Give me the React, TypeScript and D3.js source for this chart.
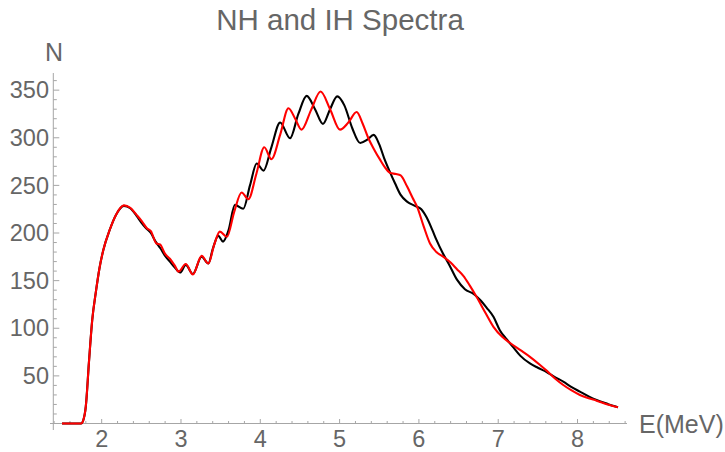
import React from 'react';
import * as d3 from 'd3';

// NH (black) spectrum, energy in MeV and counts
const nhEnergy = [
  1.5, 1.74, 1.77, 1.8, 1.84, 1.88, 1.93, 1.97, 2.02, 2.1, 2.18, 2.28, 2.36, 2.44, 2.5, 2.56,
  2.62, 2.68, 2.74, 2.8, 2.86, 2.92, 2.99, 3.06, 3.15, 3.26, 3.345, 3.4, 3.47, 3.53, 3.6, 3.68,
  3.785, 3.87, 3.955, 4.04, 4.14, 4.25, 4.375, 4.48, 4.585, 4.69, 4.79, 4.88, 4.97, 5.06, 5.16,
  5.26, 5.35, 5.43, 5.5, 5.56, 5.635, 5.7, 5.77, 5.85, 5.95, 6.03, 6.1, 6.17, 6.22, 6.3, 6.38,
  6.48, 6.58, 6.69, 6.77, 6.855, 6.94, 7.02, 7.1, 7.18, 7.28, 7.4, 7.5, 7.61, 7.72, 7.82, 7.92,
  8.03, 8.14, 8.24, 8.38, 8.51,
];
const nhCounts = [
  0, 0, 4, 18, 65, 108, 140, 162, 182, 203, 219, 228.5, 226, 218, 211, 205,
  200, 191, 184, 176, 170, 164, 158.5, 166.5, 157, 175, 168, 183, 197, 191, 203, 229.5,
  225.5, 250, 273, 265.5, 290, 316, 299.5, 325, 344, 330, 314.5, 330, 343.5, 334, 310,
  294.5, 298, 303, 293, 279, 264, 252, 240, 233, 228.5, 225, 216, 203, 193, 179, 167,
  151, 141, 136, 130, 121.5, 112, 98, 89, 81, 71, 63, 58.5, 54, 48.5, 44, 38.5,
  33.4, 28.5, 24.7, 20.5, 17,
];

// IH (red) spectrum
const ihEnergy = [
  1.5, 1.74, 1.77, 1.8, 1.84, 1.88, 1.93, 1.97, 2.02, 2.1, 2.18, 2.28, 2.36, 2.44, 2.51, 2.57,
  2.62, 2.69, 2.735, 2.8, 2.86, 2.92, 2.97, 3.06, 3.15, 3.26, 3.345, 3.42, 3.49, 3.58, 3.67,
  3.765, 3.85, 3.95, 4.05, 4.14, 4.25, 4.355, 4.44, 4.52, 4.64, 4.76, 4.88, 5.005, 5.11, 5.215,
  5.29, 5.36, 5.44, 5.51, 5.58, 5.64, 5.71, 5.77, 5.85, 5.92, 5.98, 6.06, 6.14, 6.22, 6.31,
  6.4, 6.48, 6.56, 6.64, 6.73, 6.84, 6.94, 7.05, 7.15, 7.28, 7.4, 7.52, 7.61, 7.72, 7.82, 7.92,
  8.03, 8.14, 8.24, 8.38, 8.51,
];
const ihCounts = [
  0, 0, 4, 18, 65, 108, 140, 162, 182, 203, 219, 229, 226.5, 219, 212, 205,
  202, 189, 188, 178, 173, 166, 159.5, 167.5, 156.5, 176, 168, 188, 201.5, 196, 222,
  242.5, 235.5, 262, 290, 277.5, 303, 331, 320, 308.5, 329, 348.5, 330, 308.5, 316, 327,
  315, 300, 287, 277, 268, 263, 262, 260.5, 249, 237, 227, 207, 189, 180, 175,
  169, 162, 155, 145, 132.5, 116, 101.5, 91, 84.5, 77, 70, 62, 55.5, 47, 40.4, 35,
  30, 26.5, 24, 20, 17,
];

const xTickLabels = [2, 3, 4, 5, 6, 7, 8];
const yTickLabels = [50, 100, 150, 200, 250, 300, 350];

const W = 725;
const H = 452;
const FONT = '"Liberation Sans", Arial, sans-serif';
const TEXT = '#666666';
const AXIS = '#a6a6a6';

export default function App() {
  const x = d3.scaleLinear().domain([1.39, 8.62]).range([53.3, 626.7]);
  const y = d3.scaleLinear().domain([0, 368]).range([423.5, 73]);

  const line = d3
    .line<[number, number]>()
    .x(d => x(d[0]))
    .y(d => y(d[1]))
    .curve(d3.curveMonotoneX);

  const nh = nhEnergy.map((e, i) => [e, nhCounts[i]] as [number, number]);
  const ih = ihEnergy.map((e, i) => [e, ihCounts[i]] as [number, number]);

  const xMinor = d3.range(1.4, 8.61, 0.2).filter(v => Math.abs(v - Math.round(v)) > 0.01);
  const yMinor = d3.range(10, 361, 10).filter(v => v % 50 !== 0);

  const x0 = x(1.39);
  const y0 = y(0);

  return (
    <svg width={W} height={H} style={{ position: 'absolute', left: 0, top: 0 }}>
      <rect width={W} height={H} fill="#fff" />

      <text x={340} y={30} textAnchor="middle" fontFamily={FONT} fontSize={29.5} fill={TEXT}>
        NH and IH Spectra
      </text>

      {/* axes */}
      <line x1={50} x2={627} y1={y0} y2={y0} stroke={AXIS} strokeWidth={1} />
      <line x1={x0} x2={x0} y1={73} y2={430} stroke={AXIS} strokeWidth={1} />

      {xTickLabels.map(t => (
        <g key={'xt' + t}>
          <line x1={x(t)} x2={x(t)} y1={y0} y2={y0 - 4.5} stroke={AXIS} />
          <text x={x(t)} y={447} textAnchor="middle" fontFamily={FONT} fontSize={23.5} fill={TEXT}>
            {t}
          </text>
        </g>
      ))}
      {xMinor.map(t => (
        <line key={'xm' + t} x1={x(t)} x2={x(t)} y1={y0} y2={y0 - 2.5} stroke={AXIS} />
      ))}

      {yTickLabels.map(t => (
        <g key={'yt' + t}>
          <line x1={x0} x2={x0 + 6} y1={y(t)} y2={y(t)} stroke={AXIS} />
          <text x={49} y={y(t)} dy="0.35em" textAnchor="end" fontFamily={FONT} fontSize={23.5} fill={TEXT}>
            {t}
          </text>
        </g>
      ))}
      {yMinor.map(t => (
        <line key={'ym' + t} x1={x0} x2={x0 + 3.5} y1={y(t)} y2={y(t)} stroke={AXIS} />
      ))}

      <text x={54} y={61} textAnchor="middle" fontFamily={FONT} fontSize={25} fill={TEXT}>
        N
      </text>
      <text x={639} y={433} fontFamily={FONT} fontSize={25} fill={TEXT}>
        E(MeV)
      </text>

      <path d={line(nh) || ''} fill="none" stroke="#000" strokeWidth={2.1} />
      <path d={line(ih) || ''} fill="none" stroke="#ff0000" strokeWidth={2.1} />
    </svg>
  );
}
